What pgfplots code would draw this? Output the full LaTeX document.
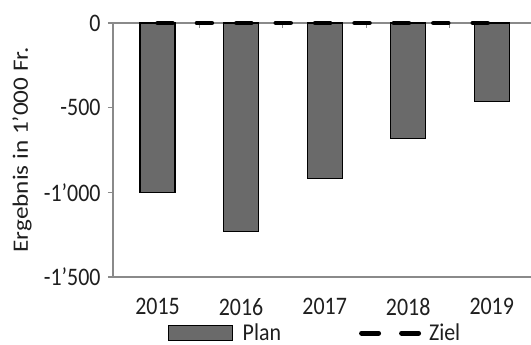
\documentclass[border=0pt]{standalone}
\usepackage{fontspec}
\setmainfont{Carlito}[Numbers=Lining]
\usepackage{pgfplots}
\pgfplotsset{compat=1.18}
\definecolor{barfill}{HTML}{6A6A6A}
\definecolor{axgray}{HTML}{8A8A8A}
\definecolor{txt}{HTML}{1F1F1F}
\begin{document}
\begin{tikzpicture}
\begin{axis}[
  scale only axis,
  width=418bp, height=254bp,
  xmin=-0.533, xmax=4.47,
  ymin=-1500, ymax=0,
  clip=false,
  axis x line*=box, axis y line*=left,
  axis line style={draw=axgray, line width=1.3bp},
  xtick pos=right, xticklabel pos=left,
  xtick={0,1,2,3,4},
  xticklabels={2015,2016,2017,2018,2019},
  xtick style={draw=none},
  extra x ticks={0.5,1.5,2.5,3.5},
  extra x tick labels={},
  extra x tick style={xtick style={draw=axgray, line width=1bp}},
  ytick={-1500,-1000,-500,0},
  yticklabels={-1'500,-1'000,-500,0},
  ytick style={draw=axgray, line width=1.3bp, xshift=-5bp},
  major tick length=5bp,
  ticklabel style={font=\fontsize{22}{26}\selectfont, text=txt, yscale=1.15},
  xticklabel style={yshift=-15bp},
  yticklabel style={xshift=-9bp},
  ylabel={Ergebnis in 1'000 Fr.},
  ylabel style={font=\fontsize{22}{26}\selectfont, text=txt, at={(axis description cs:-0.2177,0.5)}, anchor=center, xscale=1.15},
  legend columns=2,
  legend style={at={(0.483,-0.172)}, anchor=north, draw=none, fill=none,
    font=\fontsize{22}{26}\selectfont, text=txt, nodes={yscale=1.1, inner ysep=1bp},
    /tikz/every even column/.append style={column sep=76bp}},
]
\addplot[ybar, bar width=35bp, fill=barfill, draw=black, line width=1.2bp,
  legend image code/.code={\draw[fill=barfill, draw=black, line width=1.2bp] (0bp,-7.5bp) rectangle (64bp,7.5bp);}]
  coordinates {(0,-1003) (1,-1230) (2,-916) (3,-682) (4,-463)};
\addlegendentry{\hspace{8bp}Plan}
\addplot[black, line width=4.5bp, line cap=round, dash pattern=on 15bp off 24.4bp,
  legend image code/.code={\draw[black, line width=5bp, line cap=round, dash pattern=on 17bp off 23bp] (2.5bp,0) -- (61.5bp,0);}]
  coordinates {(0,0) (4,0)};
\addlegendentry{\hspace{4bp}Ziel}
\coordinate (bl) at (rel axis cs:0,0);
\coordinate (tr) at (rel axis cs:1,1);
\end{axis}
\pgfresetboundingbox
\path ([shift={(-113bp,-68bp)}]bl) rectangle ([shift={(0bp,23bp)}]tr);
\end{tikzpicture}
\end{document}
